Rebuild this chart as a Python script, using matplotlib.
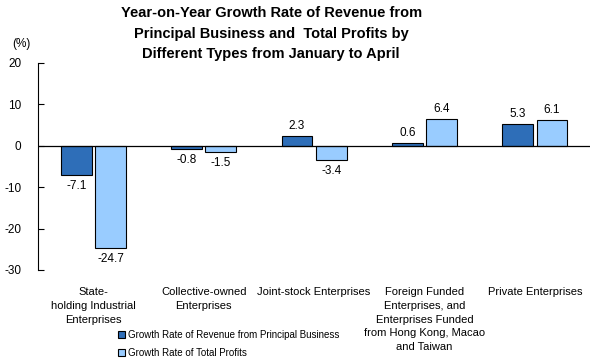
import matplotlib
matplotlib.use("Agg")
import matplotlib.pyplot as plt
import numpy as np

plt.rcParams['font.family'] = ['Liberation Sans', 'DejaVu Sans']
plt.rcParams['axes.unicode_minus'] = False

categories = ["State-\nholding Industrial\nEnterprises",
              "Collective-owned\nEnterprises",
              "Joint-stock Enterprises",
              "Foreign Funded\nEnterprises, and\nEnterprises Funded\nfrom Hong Kong, Macao\nand Taiwan",
              "Private Enterprises"]
revenue = [-7.1, -0.8, 2.3, 0.6, 5.3]
profits = [-24.7, -1.5, -3.4, 6.4, 6.1]

fig = plt.figure(figsize=(5.96, 3.59), dpi=100)
ax = fig.add_axes([0.064, 0.248, 0.926, 0.577])

x = np.arange(len(categories))
w = 0.28
b1 = ax.bar(x - w / 2 - 0.015, revenue, w, color='#2E6EB8', edgecolor='black', linewidth=0.8,
            label='Growth Rate of Revenue from Principal Business')
b2 = ax.bar(x + w / 2 + 0.015, profits, w, color='#99CCFF', edgecolor='black', linewidth=0.8,
            label='Growth Rate of Total Profits')

for bars, vals in ((b1, revenue), (b2, profits)):
    for r, v in zip(bars, vals):
        cx = r.get_x() + r.get_width() / 2
        if v < 0:
            ax.text(cx, v - 1.2, f"{v}", ha='center', va='top', fontsize=8.5)
        else:
            ax.text(cx, v + 1.0, f"{v}", ha='center', va='bottom', fontsize=8.5)

ax.axhline(0, color='black', linewidth=0.9)
ax.set_xlim(-0.5, len(categories) - 0.5)
ax.set_ylim(-30, 20)
ax.set_yticks([-30, -20, -10, 0, 10, 20])
ax.tick_params(axis='y', direction='in', length=4, labelsize=8.5, pad=12)
ax.set_xticks([])
for s in ('top', 'right', 'bottom'):
    ax.spines[s].set_visible(False)

for i, c in enumerate(categories):
    ax.text(i, -34.2, c, ha='center', va='top', fontsize=8, linespacing=1.45)

fig.text(0.02, 0.87, "(%)", fontsize=8.5)
fig.text(0.455, 0.982, "Year-on-Year Growth Rate of Revenue from\nPrincipal Business and  Total Profits by\nDifferent Types from January to April",
         ha='center', va='top', fontsize=10.5, fontweight='bold', linespacing=1.55)

fig.legend(handles=[b1, b2], loc='lower left', bbox_to_anchor=(0.19, -0.01), frameon=False,
           fontsize=7, handlelength=0.7, handleheight=0.7, handletextpad=0.3, labelspacing=0.8,
           borderaxespad=0.1)

fig.savefig("out.png", dpi=100)
